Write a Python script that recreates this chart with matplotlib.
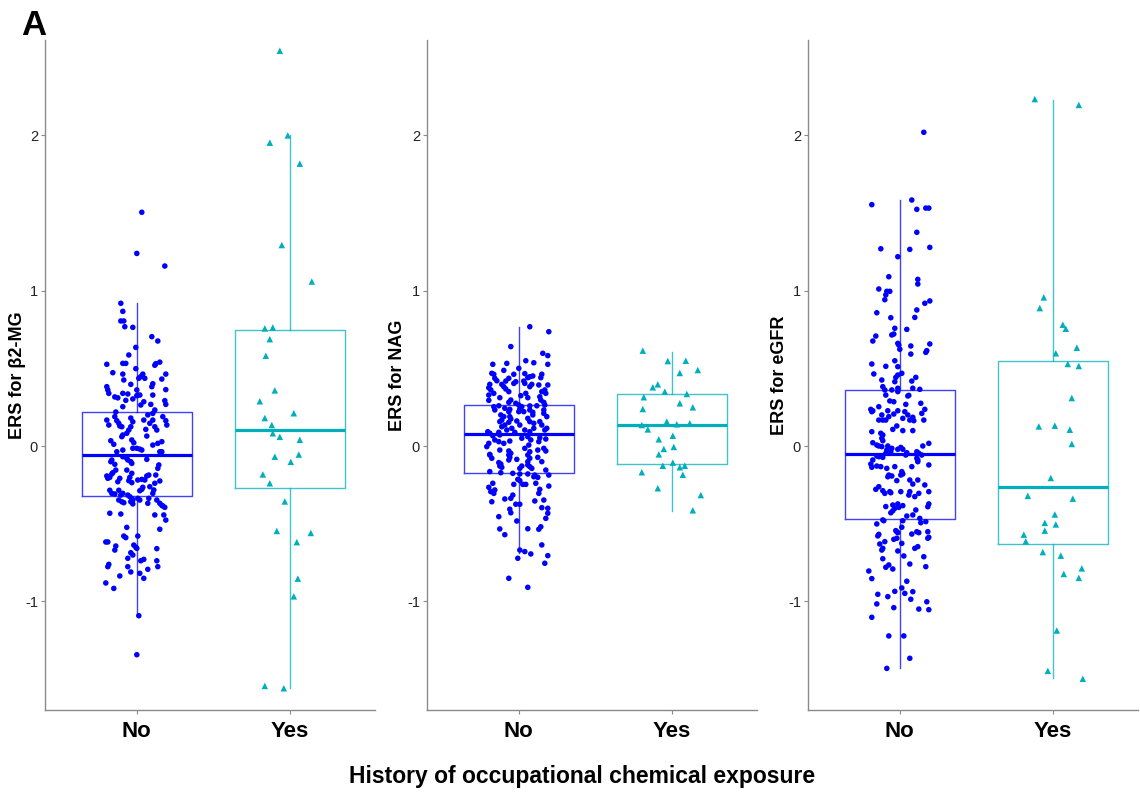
import numpy as np
import matplotlib
matplotlib.use("Agg")
import matplotlib.pyplot as plt

plt.rcParams['font.family'] = ['Liberation Sans', 'DejaVu Sans']

# ---------------- data ----------------
groups = ["No", "Yes"]
ylabels = ["ERS for \u03b22-MG", "ERS for NAG", "ERS for eGFR"]
yticks = [-1, 0, 1, 2]
xlabel = "History of occupational chemical exposure"
panel_tag = "A"

# box statistics: [whisker low, Q1, median, Q3, whisker high]
b2mg_no_box = [-1.09, -0.32, -0.058, 0.222, 0.92]
b2mg_yes_box = [-1.56, -0.27, 0.10, 0.75, 2.00]
nag_no_box = [-0.69, -0.172, 0.077, 0.265, 0.768]
nag_yes_box = [-0.417, -0.118, 0.133, 0.333, 0.607]
egfr_no_box = [-1.43, -0.470, -0.052, 0.361, 1.584]
egfr_yes_box = [-1.494, -0.63, -0.265, 0.55, 2.23]

# individual values (ERS) and their horizontal jitter (in 1/153 of a category step)
b2mg_no_y = [1.505, 1.240, 1.159, 0.919, 0.867, 0.805, 0.805, 0.768, 0.764, 0.704, 0.676, 0.635, 0.586,
             0.526, 0.532, 0.532, 0.53, 0.52, 0.54, 0.472, 0.463, 0.498, 0.463, 0.447, 0.436, 0.436,
             0.463, 0.431, 0.425, 0.397, 0.382, 0.361, 0.339, 0.401, 0.382, 0.361, 0.328, 0.324, 0.328,
             0.339, 0.335, 0.363, 0.316, 0.310, 0.294, 0.303, 0.328, 0.292, 0.268, 0.285, 0.264, 0.268,
             0.253, 0.232, 0.219, 0.210,
             0.167, 0.135, 0.189, 0.163, 0.146, 0.129, 0.124, 0.180, 0.156, 0.124, 0.103, 0.082, 0.071,
             0.060, 0.167, 0.200, 0.167, 0.146, 0.124, 0.103, 0.189, 0.163, 0.135, 0.107, 0.064, 0.039,
             0.021, 0.034, 0.011, 0.017, 0.028, 0.006, -0.015, -0.015, -0.020, -0.026, -0.026, -0.037,
             -0.037, -0.037, -0.069, -0.080, -0.090, -0.101, -0.112, -0.090, -0.101, -0.118, -0.086,
             -0.122, -0.144, -0.155, -0.172, -0.180, -0.193, -0.208, -0.202, -0.155, -0.176, -0.202,
             -0.223, -0.236, -0.208, -0.230, -0.219, -0.215, -0.219, -0.193, -0.187, -0.187, -0.225,
             -0.240, -0.279, -0.288, -0.266, -0.262, -0.285, -0.305, -0.309, -0.285, -0.316, -0.305,
             -0.316, -0.326, -0.337, -0.348, -0.359, -0.373, -0.337, -0.348, -0.337, -0.369, -0.283,
             -0.305, -0.348, -0.369, -0.386, -0.395, -0.382, -0.433, -0.438, -0.444, -0.444, -0.477,
             -0.348, -0.359, -0.365,
             -0.536, -0.524, -0.580, -0.580, -0.590, -0.618, -0.618, -0.644, -0.670, -0.638, -0.652,
             -0.659, -0.661, -0.687, -0.702, -0.723, -0.739, -0.730, -0.739, -0.762, -0.777, -0.777,
             -0.811, -0.794, -0.777, -0.820, -0.837, -0.852, -0.882, -0.917, -1.093, -1.344]
b2mg_no_jit = [5, 0, 28, -16, -14, -16, -13, -12, -4, 15, 21, -1, -8,
               -30, -14, -11, 19, 18, 23, -24, -14, -1, 6, 4, 2, 8,
               29, 25, -13, -6, -30, -29, -28, 16, 15, 0, 1, 0, 3,
               -14, -9, 29, -22, -19, -11, -4, 16, 28, 29, 7, 4, 14,
               -14, 18, -21, 16,
               -30, -28, -22, -20, -18, -17, -15, -6, -4, -6, -8, -10, -14,
               -15, 7, 11, 16, 13, 18, 20, 26, 29, 30, 9, 10, -5,
               -3, -26, -23, 21, 25, 16, -4, 0, 3, 5, -14, -20,
               25, 23, -14, -10, -9, -6, -5, -25, -26, -22, 10,
               22, 21, -21, -24, -25, -30, -29, -27, -10, -5, -7,
               -8, -5, -17, -19, 1, 5, 8, 10, 12, 19, 23,
               18, 5, 3, 6, 13, -27, -25, -22, -18, -16, -14,
               -9, -7, -5, -4, -6, -4, 1, 3, 12, 11, 17,
               16, 20, 23, 26, 28, 25, -27, -16, 18, 27, 29,
               -18, -15, -13,
               23, -10, 1, -13, -11, -31, -29, -21, -22, -3, -1,
               0, 20, -6, -4, -9, 4, 7, 20, -28, -29, -9,
               -6, 11, 21, 3, -17, 7, -31, -23, 2, 0]

b2mg_yes_y = [2.545, 2.00, 1.953, 1.818, 1.294, 1.059, 0.757, 0.763, 0.688, 0.581, 0.358, 0.288, 0.180,
              0.211, 0.135, 0.082, 0.059, 0.040, -0.055, -0.069, -0.102, -0.183, -0.240, -0.357, -0.547,
              -0.560, -0.619, -0.854, -0.968, -1.545, -1.560]
b2mg_yes_jit = [-10, -2, -20, 10, -8, 22, -25, -17, -20, -24, -15, -30, -25,
                4, -18, -17, -10, 10, 9, -15, 1, -27, -20, -5, -13,
                21, 7, 8, 4, -25, -6]

nag_no_y = [0.768, 0.736, 0.640, 0.597, 0.582, 0.549, 0.536, 0.526, 0.532, 0.526, 0.500, 0.487, 0.468,
            0.462, 0.462, 0.466, 0.446, 0.451, 0.462, 0.440, 0.436, 0.418, 0.436, 0.420, 0.418, 0.403,
            0.440, 0.397, 0.375, 0.361, 0.397, 0.382, 0.367, 0.403, 0.414, 0.382, 0.397, 0.393, 0.393,
            0.350, 0.361, 0.339, 0.339, 0.328, 0.350, 0.311, 0.294, 0.339, 0.311, 0.324, 0.317, 0.296,
            0.296, 0.281, 0.275, 0.264, 0.253, 0.281, 0.264, 0.258, 0.259, 0.253, 0.259, 0.232, 0.243,
            0.221, 0.236, 0.221, 0.238, 0.221, 0.217, 0.200, 0.232, 0.210, 0.189, 0.232, 0.200, 0.189,
            0.167, 0.157, 0.189, 0.174, 0.153, 0.161, 0.135, 0.178, 0.157, 0.146, 0.157, 0.135, 0.114,
            0.103, 0.124, 0.135, 0.103, 0.092, 0.082, 0.066, 0.088, 0.071, 0.114, 0.088, 0.103, 0.092,
            0.114, 0.017, -0.004, 0.039, 0.028, 0.017, 0.032, 0.050, 0.060, 0.039, 0.006, 0.053, 0.045,
            0.028, -0.026, -0.032, -0.047, -0.054, -0.015, -0.037, -0.026, -0.015, -0.032,
            -0.058, -0.079, -0.058, -0.073, -0.090, -0.086, -0.058, -0.079, -0.101, -0.073, -0.101,
            -0.107, -0.116, -0.129, -0.137, -0.129, -0.144, -0.122, -0.133, -0.144, -0.165, -0.172,
            -0.176, -0.180, -0.180, -0.187, -0.198, -0.202, -0.155, -0.187, -0.215, -0.223, -0.240,
            -0.266, -0.283, -0.305, -0.294, -0.247, -0.247, -0.247, -0.240, -0.258, -0.279, -0.305,
            -0.316, -0.337, -0.341, -0.359, -0.354, -0.348, -0.375, -0.375, -0.397, -0.401, -0.433,
            -0.466, -0.407, -0.430, -0.455, -0.483, -0.534, -0.571, -0.533, -0.536, -0.520, -0.637,
            -0.670, -0.680, -0.695, -0.723, -0.706, -0.755, -0.852, -0.910]
nag_no_jit = [11, 30, -8, 24, 29, 7, 15, -26, -12, 29, 0, -15, -27,
              -25, -5, 6, 11, 14, 23, 22, -10, -13, -24, -22, 5, 6,
              9, -29, -30, -28, -17, -15, -13, -5, -3, 11, 13, 20, 29,
              23, 26, 27, -25, -30, -10, -19, -30, 7, 9, 2, 21, 22,
              -8, -10, -3, 0, 3, 25, 26, 11, 18, -25, -20, -24, -14,
              -10, -9, 0, 1, 5, 14, 14, 11, 25, 28, 25, -18, -15,
              -17, -19, -9, -8, -10, -2, 1, 9, 11, 15, 21, 23, 28,
              26, -17, -14, -12, -31, -29, -26, -20, -19, -7, -4, 6, 11,
              15, -30, -32, -24, -20, -15, -9, 3, 9, 12, 10, 21, 27,
              20, -19, -10, -8, -29, 6, 11, 19, 25, 27,
              -29, -27, -10, -9, -10, -2, 9, 11, 9, 19, 23,
              -20, -18, -19, -17, 3, 1, 9, 11, 13, -29, -18,
              -6, 1, 9, 16, 15, 19, 27, 30, -1, 1, -26,
              -30, -24, -25, -28, -5, 4, 7, 17, 30, 21, 20,
              -6, -8, -14, -27, 16, 25, -3, 1, 23, 29, 29,
              27, -9, -8, -20, -2, -19, -14, 9, 20, 22, 23,
              1, 6, 12, -1, 29, 26, -10, 9]

nag_yes_y = [0.614, 0.547, 0.549, 0.489, 0.470, 0.378, 0.397, 0.350, 0.335, 0.314, 0.275, 0.249, 0.238,
             0.135, 0.157, 0.140, 0.146, 0.107, 0.066, 0.043, -0.006, -0.019, -0.054, -0.107, -0.127,
             -0.137, -0.127, -0.169, -0.185, -0.272, -0.316, -0.414]
nag_yes_jit = [-29, -4, 14, 26, 8, -19, -14, -7, 15, -28, 8, 21, -29,
               -30, -5, 5, 18, -24, 1, -13, 2, -8, -13, 1, -9,
               8, 13, -30, 11, -14, 29, 21]

egfr_no_y = [2.020, 1.554, 1.584, 1.524, 1.532, 1.532, 1.376, 1.270, 1.266, 1.279, 1.219, 1.090, 1.073,
             1.043, 1.011, 0.996, 0.996, 0.973, 0.942, 0.919, 0.934, 0.858, 0.826, 0.876, 0.828,
             0.758, 0.715, 0.721, 0.708, 0.676, 0.751, 0.661, 0.650, 0.623, 0.644, 0.592, 0.657, 0.614,
             0.603, 0.528, 0.464, 0.513, 0.549, 0.511, 0.468, 0.457, 0.442, 0.414, 0.425, 0.442, 0.418,
             0.382, 0.361, 0.328, 0.361, 0.372, 0.350, 0.322, 0.326, 0.372, 0.365, 0.290, 0.285, 0.268,
             0.275, 0.253, 0.236, 0.221, 0.227, 0.227, 0.206, 0.189, 0.227, 0.221, 0.236, 0.210, 0.200,
             0.167, 0.167, 0.167, 0.178, 0.200, 0.167, 0.185, 0.163, 0.167, 0.129, 0.107, 0.099, 0.099,
             0.092, 0.082, 0.071, 0.050, 0.034, 0.021, 0.006, 0.000, -0.004, 0.000, -0.026, -0.015,
             -0.037, -0.021, -0.009, -0.021, 0.000, 0.017, -0.037, -0.047, -0.064, -0.069, -0.073,
             -0.047, -0.043, -0.058, -0.058, -0.090, -0.116, -0.137, -0.129, -0.133, -0.144, -0.187,
             -0.193, -0.198, -0.133, -0.165, -0.180, -0.187, -0.133, -0.079, -0.101, -0.090, -0.122,
             -0.223, -0.219, -0.245, -0.219, -0.251, -0.279, -0.262, -0.288, -0.305, -0.294, -0.301,
             -0.294, -0.294, -0.316, -0.326, -0.305, -0.294,
             -0.390, -0.380, -0.401, -0.373, -0.395, -0.384, -0.430, -0.417, -0.391, -0.373, -0.412,
             -0.444, -0.451, -0.466, -0.494, -0.487, -0.476, -0.481, -0.481, -0.502, -0.523, -0.545,
             -0.558, -0.552, -0.569, -0.579, -0.567, -0.552, -0.558, -0.552, -0.588, -0.594, -0.601,
             -0.594, -0.616, -0.631, -0.659, -0.670, -0.627, -0.659, -0.648, -0.676, -0.708, -0.726,
             -0.713, -0.760, -0.781, -0.766, -0.792, -0.777, -0.805, -0.854, -0.871, -0.914, -0.936,
             -0.949, -0.938, -0.987, -0.955, -0.970, -1.017, -1.041, -1.050, -1.003, -1.054, -1.103,
             -1.223, -1.223, -1.367, -1.432]
egfr_no_jit = [24, -28, 12, 17, 26, 29, 17, -19, 10, 30, -2, -11, 18,
               18, -21, -13, -10, -14, -15, 25, 30, -23, -9, 17, 15,
               -5, -8, -6, -24, -27, 7, -2, -1, 0, 11, 11, 30, 27,
               26, -28, -26, -14, -5, -2, 2, -2, -4, -5, -18, 16, 12,
               -17, -15, -14, -8, -2, -2, 8, 9, 13, 20, -10, -6, 6,
               21, -21, -29, -28, -27, -12, -6, -11, -2, 5, 25, 22, -18,
               -21, -17, -14, 3, 8, 10, 13, 14, 24, -3, -7, 3, 13,
               -28, -19, -17, -18, -17, -27, -23, -21, -18, -12, -13, -8,
               -9, -2, 1, 3, 23, 29, 17, 19, -23, -21, -17,
               -14, 7, 6, 22, -27, -29, -28, -23, -19, -13, -11,
               -8, -12, -5, 2, 3, 1, 12, 17, 18, 18, 29,
               -3, 10, 13, 18, 25, -24, -21, -17, -15, -10, -9,
               1, 10, 9, 15, 19, 29,
               -14, -7, -5, -2, -1, 3, -9, -7, 28, 29, 16,
               13, 7, 20, 21, 26, -17, -16, 3, -23, 2, -4,
               -2, -3, -21, -22, 12, 17, 19, 28, 29, 28, -6,
               -3, -15, -20, -17, -18, 2, 15, 18, -2, 4, -17,
               24, 10, -14, -11, -7, 26, -31, -28, 7, 2, -5,
               5, 13, 11, -22, -12, -23, -6, 19, 27, 29, -28,
               -11, 4, 10, -13]

egfr_yes_y = [2.234, 2.196, 0.957, 0.888, 0.781, 0.755, 0.633, 0.597, 0.528, 0.515, 0.309, 0.126, 0.131,
              0.105, 0.013, -0.206, -0.321, -0.339, -0.441, -0.495, -0.505, -0.545, -0.571, -0.614,
              -0.683, -0.706, -0.788, -0.824, -0.849, -1.188, -1.448, -1.499]
egfr_yes_jit = [-18, 26, -9, -13, 10, 13, 24, 3, 15, 26, 19, -14, 2,
                17, 19, -2, -25, 20, 2, -8, 3, -8, -29, -27,
                -10, 8, 29, 11, 26, 4, -5, 30]

panels = [
    (b2mg_no_y, b2mg_no_jit, b2mg_yes_y, b2mg_yes_jit, b2mg_no_box, b2mg_yes_box),
    (nag_no_y, nag_no_jit, nag_yes_y, nag_yes_jit, nag_no_box, nag_yes_box),
    (egfr_no_y, egfr_no_jit, egfr_yes_y, egfr_yes_jit, egfr_no_box, egfr_yes_box),
]

# ---------------- styling ----------------
col_no = "#0000FF"
col_yes = "#00AFBB"
axis_grey = "#8a8a8a"
step_px = 153.0

W, H = 1140, 795
fig = plt.figure(figsize=(W / 100, H / 100), dpi=100)
fig.patch.set_facecolor("white")

lefts_px = [45, 427, 808]
label_gap_px = [19, 21, 20]
top_px, bottom_px, width_px = 40, 710, 330


def box_stats(v, label):
    return dict(whislo=v[0], q1=v[1], med=v[2], q3=v[3], whishi=v[4], label=label, fliers=[])


for i, (ny, nj, yy, yj, nbox, ybox) in enumerate(panels):
    ax = fig.add_axes([lefts_px[i] / W, 1 - bottom_px / H, width_px / W, (bottom_px - top_px) / H])
    for pos, stats, col in [(1, nbox, col_no), (2, ybox, col_yes)]:
        ax.bxp([box_stats(stats, groups[pos - 1])], positions=[pos], widths=0.72,
               showfliers=False, showcaps=False, patch_artist=False,
               boxprops=dict(color=col, linewidth=1.0, alpha=0.75),
               whiskerprops=dict(color=col, linewidth=1.0, alpha=0.75),
               medianprops=dict(color=col, linewidth=2.3, solid_capstyle='butt'),
               zorder=1)
    ax.scatter(1 + np.array(nj) / step_px, ny, s=16, marker='o', color=col_no,
               edgecolors='none', zorder=3)
    ax.scatter(2 + np.array(yj) / step_px, yy, s=22, marker='^', color=col_yes,
               edgecolors='none', zorder=3)

    ax.set_xlim(0.4, 0.4 + width_px / step_px)
    ax.set_ylim((446 - bottom_px) / 155.3, (446 - top_px) / 155.3)
    ax.set_yticks(yticks)
    ax.set_yticklabels([str(t) for t in yticks])
    ax.set_xticks([1, 2])
    ax.set_xticklabels(groups, fontsize=16, fontweight='bold')
    ax.tick_params(axis='y', labelsize=10.5, colors='#222222', length=3, width=0.8, pad=2)
    ax.tick_params(axis='x', length=3, width=0.8, pad=5, labelcolor='black')
    ax.tick_params(axis='both', color=axis_grey)
    for s in ['top', 'right']:
        ax.spines[s].set_visible(False)
    for s in ['left', 'bottom']:
        ax.spines[s].set_color(axis_grey)
        ax.spines[s].set_linewidth(1.0)
    ax.set_ylabel(ylabels[i], fontsize=13, fontweight='bold')
    ax.yaxis.set_label_coords(-label_gap_px[i] / width_px, 0.5)
    ax.set_facecolor("white")

fig.text(582 / W, 1 - 776 / H, xlabel, ha='center', va='center', fontsize=16.5, fontweight='bold')
fig.text(21 / W, 1 - 35 / H, panel_tag, ha='left', va='baseline', fontsize=25, fontweight='bold')

fig.savefig("out.png", dpi=100, facecolor="white")
